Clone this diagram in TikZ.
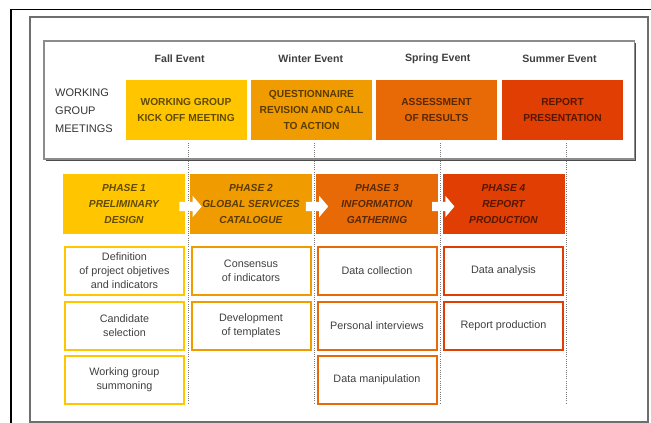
\documentclass[tikz,border=0pt]{standalone}
\usepackage{fontspec}
\setmainfont{Liberation Sans}
\usetikzlibrary{calc}

\definecolor{cA}{HTML}{FFC600}
\definecolor{cB}{HTML}{F09C00}
\definecolor{cC}{HTML}{E86A06}
\definecolor{cD}{HTML}{E03E02}
\definecolor{ink}{HTML}{404040}
\definecolor{frameout}{HTML}{6E6E6E}
\definecolor{framein}{HTML}{8C8C8C}
\definecolor{guidecol}{HTML}{7A7A7A}

\tikzset{
  eventlabel/.style={font=\bfseries\fontsize{10.6}{12}\selectfont, text=ink, inner sep=0pt},
  meetbox/.style={minimum width=121pt, minimum height=60pt, inner sep=0pt, align=center,
    font=\bfseries\fontsize{10.2}{16}\selectfont, text=black, text opacity=0.62},
  phasebox/.style={minimum width=122pt, minimum height=60pt, inner sep=0pt, align=center,
    font=\bfseries\itshape\fontsize{10.2}{16}\selectfont, text=black, text opacity=0.62},
  taskbox/.style={draw=#1, line width=2pt, fill=white, minimum width=119pt, minimum height=48pt,
    inner sep=0pt, align=center, font=\fontsize{10.8}{14}\selectfont, text=ink},
  guide/.style={guidecol, line width=0.9pt, dash pattern=on 0.9pt off 1.3pt},
  blockarrow/.style={fill=white},
}

\begin{document}
\begin{tikzpicture}[x=1pt, y=-1pt]
\useasboundingbox (0,0) rectangle (651,423);

% page frame lines
\coordinate (fk0) at (11,9.5);
\draw[black, line width=1.1pt] (651,9.5) -- (fk0) -- (11,423);
\draw[frameout, line width=1.6pt] (30,17) rectangle (648,422);

% meetings panel with a soft shadow on the right and bottom
\draw[black!70, line width=1.2pt] (45.5,160) -- (635.5,160) -- (635.5,42.5);
\draw[framein, line width=1.1pt] (44,41) rectangle (634.5,159);

% event headers
\node[eventlabel] (e1) at (179.7,59) {Fall Event};
\node[eventlabel] (e2) at (310.8,59) {Winter Event};
\node[eventlabel] (e3) at (437.8,59) {Spring Event};
\node[eventlabel] (e4) at (559.5,59) {Summer Event};

\node[anchor=west, align=left, inner sep=0pt, text=black!80,
      font=\fontsize{11}{18}\selectfont] (wg) at (55,111) {WORKING\\GROUP\\MEETINGS};

% meetings
\node[meetbox, fill=cA] (m1) at (186,110) {WORKING GROUP\\KICK OFF MEETING};
\node[meetbox, fill=cB] (m2) at (311.5,110) {QUESTIONNAIRE\\REVISION AND CALL\\TO ACTION};
\node[meetbox, fill=cC] (m3) at (436.5,110) {ASSESSMENT\\OF RESULTS};
\node[meetbox, fill=cD] (m4) at (562.5,110) {REPORT\\PRESENTATION};

% timeline guides
\coordinate (g1t) at (188,143);   \coordinate (g1b) at (188,404);
\coordinate (g2t) at (314,143);   \coordinate (g2b) at (314,404);
\coordinate (g3t) at (440.3,143); \coordinate (g3b) at (440.3,404);
\coordinate (g4t) at (566.7,143); \coordinate (g4b) at (566.7,404);
\draw[guide] (g1t) -- (g1b);
\draw[guide] (g2t) -- (g2b);
\draw[guide] (g3t) -- (g3b);
\draw[guide] (g4t) -- (g4b);

% phases
\node[phasebox, fill=cA] (p1) at (124,204) {PHASE 1\\PRELIMINARY\\DESIGN};
\node[phasebox, fill=cB] (p2) at (251,204) {PHASE 2\\GLOBAL SERVICES\\CATALOGUE};
\node[phasebox, fill=cC] (p3) at (377,204) {PHASE 3\\INFORMATION\\GATHERING};
\node[phasebox, fill=cD] (p4) at (503.5,204) {PHASE 4\\REPORT\\PRODUCTION};

% block arrows between phases
\foreach \a/\b in {p1/p2, p2/p3, p3/p4}{
  \coordinate (ar) at ($(\a.east)!0.5!(\b.west)+(0,2.5)$);
  \fill[blockarrow, shift={(ar)}] (-8.2,-4.7) -- (5.2,-4.7) -- (5.2,-10.6) -- (14.2,0)
     -- (5.2,10.6) -- (5.2,4.7) -- (-8.2,4.7) -- cycle;
}

% tasks
\node[taskbox=cA] (t11) at (124.5,271) {Definition\\of project objetives\\and indicators};
\node[taskbox=cA] (t12) at (124.5,326) {Candidate\\selection};
\node[taskbox=cA] (t13) at (124.5,379.5) {Working group\\summoning};

\node[taskbox=cB] (t21) at (251,271) {Consensus\\of indicators};
\node[taskbox=cB] (t22) at (251,326) {Development\\of templates};

\node[taskbox=cC] (t31) at (377,271) {Data collection};
\node[taskbox=cC] (t32) at (377,326) {Personal interviews};
\node[taskbox=cC] (t33) at (377,379.5) {Data manipulation};

\node[taskbox=cD] (t41) at (503.5,271) {Data analysis};
\node[taskbox=cD] (t42) at (503.5,326) {Report production};
\end{tikzpicture}
\end{document}
